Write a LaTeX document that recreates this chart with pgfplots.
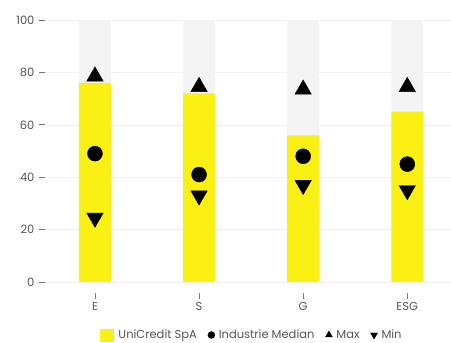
\documentclass[border=0pt]{standalone}
\usepackage{pgfplots}
\pgfplotsset{compat=1.18}
\usepackage{fontspec}
\setmainfont{Poppins}
\definecolor{ucy}{RGB}{250,240,20}
\definecolor{bgbar}{RGB}{244,244,244}
\definecolor{txt}{RGB}{85,85,85}
\begin{document}
\begin{tikzpicture}
\useasboundingbox (-45pt,-61pt) rectangle (406pt,282pt);
\begin{axis}[
  scale only axis, width=406pt, height=262pt,
  at={(0,0)}, anchor=south west,
  xmin=-0.48, xmax=3.42, ymin=0, ymax=100,
  axis line style={draw=none},
  xtick={0,1,2,3}, xticklabels={E,S,G,ESG},
  ytick={0,20,40,60,80,100},
  tick align=outside, major tick length=6pt,
  tick style={color=txt!80, line width=0.6pt},
  xtick style={yshift=-11pt},
  xticklabel style={yshift=-11pt},
  yticklabel style={xshift=-1pt},
  ymajorgrids, grid style={color=black!6, line width=0.5pt},
  every tick label/.append style={font=\fontsize{11.5}{12}\selectfont, color=txt},
  /pgf/number format/assume math mode=true,
  legend columns=4,
  legend style={at={(0.51,-0.208)}, anchor=center, draw=none, fill=none,
    font=\fontsize{11.5}{12}\selectfont\color{txt},
    /tikz/every odd column/.append style={column sep=2pt},
    /tikz/every even column/.append style={column sep=9pt},
    nodes={text depth=0.25em, text height=0.75em}},
  legend cell align=left,
  clip=false,
]
\addplot[ybar, bar width=32pt, bar shift=0pt, fill=bgbar, draw=none, forget plot]
  coordinates {(0,100) (1,100) (2,100) (3,100)};
\addplot[ybar, bar width=32pt, bar shift=0pt, fill=ucy, draw=none, forget plot]
  coordinates {(0,76) (1,72) (2,56) (3,65)};
\addplot[only marks, mark=*, mark size=7.5pt, color=black, forget plot]
  coordinates {(0,49) (1,41) (2,48) (3,45)};
\addplot[only marks, mark=triangle*, mark size=9.5pt, color=black, forget plot]
  coordinates {(0,78.5) (1,74.5) (2,73.5) (3,74.5)};
\addplot[only marks, mark=triangle*, mark size=9.5pt, mark options={rotate=180}, color=black, forget plot]
  coordinates {(0,24.5) (1,33) (2,37) (3,35)};
\addlegendimage{area legend, fill=ucy, draw=none, legend image code/.code={\fill[ucy] (0pt,-6pt) rectangle (14pt,7pt);}}
\addlegendentry{UniCredit SpA}
\addlegendimage{only marks, mark=*, mark size=3.5pt, black, legend image post style={yshift=1.5pt}}
\addlegendentry{Industrie Median}
\addlegendimage{only marks, mark=triangle*, mark size=4pt, black, legend image post style={yshift=1.5pt}}
\addlegendentry{Max}
\addlegendimage{only marks, mark=triangle*, mark size=4pt, mark options={rotate=180}, black, legend image post style={yshift=1.5pt}}
\addlegendentry{Min}
\end{axis}
\end{tikzpicture}
\end{document}
